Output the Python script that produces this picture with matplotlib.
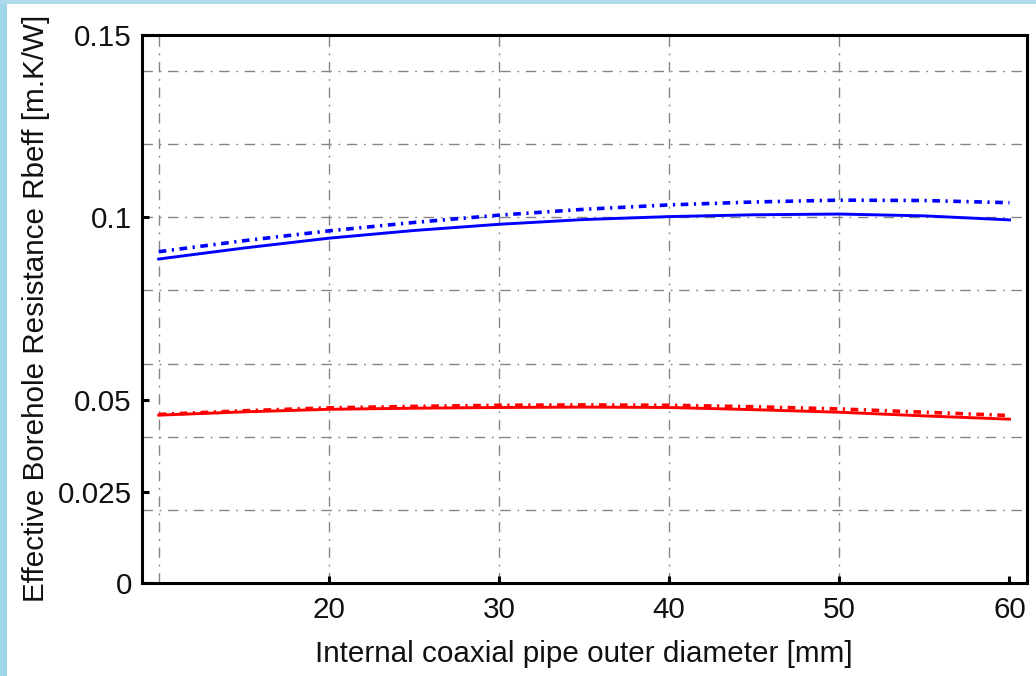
import matplotlib
matplotlib.use("Agg")
import matplotlib.pyplot as plt
from matplotlib.patches import Rectangle

plt.rcParams['font.family'] = ['Liberation Sans', 'DejaVu Sans']
plt.rcParams['lines.scale_dashes'] = False

# Data
diameter_mm = [10, 15, 20, 25, 30, 35, 40, 45, 50, 55, 60]
blue_solid = [0.0886, 0.0916, 0.0943, 0.0964, 0.0981, 0.0994, 0.1002, 0.1007, 0.1009, 0.1004, 0.0993]
blue_dashdot = [0.0906, 0.0936, 0.0963, 0.0986, 0.1006, 0.1022, 0.1034, 0.1042, 0.1047, 0.1046, 0.1040]
red_solid = [0.0459, 0.0468, 0.0475, 0.0478, 0.0480, 0.0481, 0.0480, 0.0474, 0.0467, 0.0457, 0.0448]
red_dashdot = [0.0461, 0.0471, 0.0479, 0.0483, 0.0486, 0.0487, 0.0486, 0.0482, 0.0476, 0.0467, 0.0458]

x_ticks = [20, 30, 40, 50, 60]
y_ticks = [0, 0.025, 0.05, 0.1, 0.15]
y_tick_labels = ["0", "0.025", "0.05", "0.1", "0.15"]
x_grid = [10, 20, 30, 40, 50]
y_grid = [0.02, 0.04, 0.06, 0.08, 0.10, 0.12, 0.14]

xlabel = "Internal coaxial pipe outer diameter [mm]"
ylabel = "Effective Borehole Resistance Rbeff [m.K/W]"

W, H = 1036, 676
fig = plt.figure(figsize=(W / 100, H / 100), dpi=100)
fig.patch.set_facecolor('white')

# light blue frame strips
fig.patches.append(Rectangle((0, 0), 7 / W, 1, transform=fig.transFigure,
                             facecolor='#9fd6ea', edgecolor='none', zorder=0))
fig.patches.append(Rectangle((0, 1 - 4 / H), 1, 4 / H, transform=fig.transFigure,
                             facecolor='#aedbeb', edgecolor='none', zorder=0))

left, right, top, bottom = 141.7, 1026.5, 34.5, 583
ax = fig.add_axes([left / W, 1 - bottom / H, (right - left) / W, (bottom - top) / H])
ax.set_xlim(9.0, 61.0)
ax.set_ylim(0, 0.15)

grid_dash = (0, (7.5, 4.8, 1.3, 4.8))
grid_kw = dict(color='#858585', linewidth=1.0, linestyle=grid_dash, zorder=1)
for gx in x_grid:
    ax.axvline(gx, **grid_kw)
for gy in y_grid:
    ax.axhline(gy, **grid_kw)

curve_dash = (0, (5.5, 4.0, 1.6, 4.0))
ax.plot(diameter_mm, blue_solid, color='#0000ff', linewidth=2.1, zorder=3)
ax.plot(diameter_mm, blue_dashdot, color='#0000ff', linewidth=2.6, linestyle=curve_dash, zorder=3)
ax.plot(diameter_mm, red_solid, color='#ff0000', linewidth=2.1, zorder=3)
ax.plot(diameter_mm, red_dashdot, color='#ff0000', linewidth=2.6, linestyle=curve_dash, zorder=3)

ax.set_xticks(x_ticks)
ax.set_xticklabels([str(t) for t in x_ticks])
ax.set_yticks(y_ticks)
ax.set_yticklabels(y_tick_labels)
ax.tick_params(direction='in', length=5, width=2.2, labelsize=21.3, color='black',
               labelcolor='#111111')
ax.tick_params(axis='x', pad=9)
ax.tick_params(axis='y', pad=7)

for s in ax.spines.values():
    s.set_linewidth(2.2)
    s.set_color('black')

ax.set_xlabel(xlabel, fontsize=21.3, labelpad=12, color='#111111')
ax.set_ylabel(ylabel, fontsize=21.3, labelpad=6, color='#111111')

fig.savefig("out.png", dpi=100, facecolor='white')
